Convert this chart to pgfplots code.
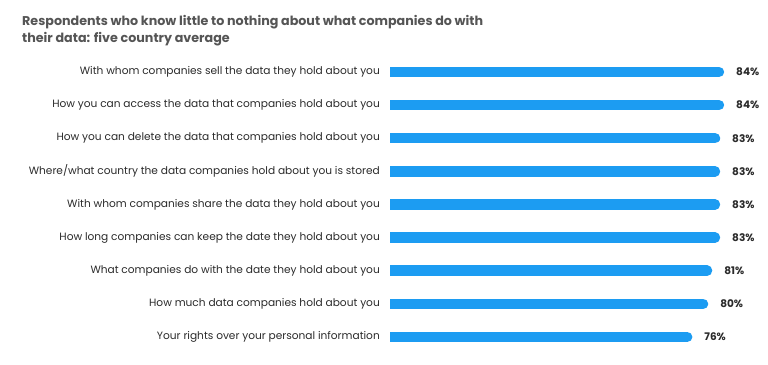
\documentclass[border=0pt]{standalone}
\usepackage{pgfplots}
\pgfplotsset{compat=1.18}
\usepackage{pgfplotstable}
\usepackage{fontspec}
\setmainfont{Poppins}
\definecolor{barblue}{HTML}{1C9CF2}
\definecolor{titlegray}{HTML}{555555}
\definecolor{labelgray}{HTML}{2B2B2B}
\pgfplotstableread{
idx v
0 84
1 84
2 83
3 83
4 83
5 83
6 81
7 80
8 76
}\datatable
\begin{document}
\begin{tikzpicture}
\useasboundingbox (0,0) rectangle (768bp,-365bp);
\fill[white] (0,0) rectangle (768bp,-365bp);
\node[anchor=base west, inner sep=0, text=titlegray, font=\fontsize{12.7bp}{17bp}\selectfont\bfseries] at (22bp,-25bp) {Respondents who know little to nothing about what companies do with};
\node[anchor=base west, inner sep=0, text=titlegray, font=\fontsize{12.7bp}{17bp}\selectfont\bfseries] at (22bp,-42bp) {their data: five country average};
\begin{axis}[
  at={(390bp,-55.44bp)}, anchor=north west,
  scale only axis, width=377.7bp, height=298.1bp,
  xmin=0, xmax=95, ymin=-0.5, ymax=8.5, y dir=reverse,
  axis line style={draw=none}, tick style={draw=none},
  xtick=\empty,
  ytick={0,...,8},
  yticklabels={
    With whom companies sell the data they hold about you,
    How you can access the data that companies hold about you,
    How you can delete the data that companies hold about you,
    Where/what country the data companies hold about you is stored,
    With whom companies share the data they hold about you,
    How long companies can keep the date they hold about you,
    What companies do with the date they hold about you,
    How much data companies hold about you,
    Your rights over your personal information},
  yticklabel style={font=\fontsize{10.6bp}{12bp}\selectfont, text=labelgray, inner sep=0pt, xshift=-10bp},
  /pgf/number format/assume math mode=true,
  clip=true,
]
\addplot[xcomb, draw=barblue, line width=10.5bp, line cap=round,
  point meta=explicit,
  nodes near coords={\pgfmathprintnumber[assume math mode=true]{\pgfplotspointmeta}\%},
  every node near coord/.style={anchor=west, inner sep=0pt, xshift=12bp, text=labelgray, font=\fontsize{10.5bp}{12bp}\selectfont\bfseries}
] table[x expr=\thisrow{v}-1.26, y=idx, meta=v] {\datatable};
\end{axis}
\end{tikzpicture}
\end{document}
